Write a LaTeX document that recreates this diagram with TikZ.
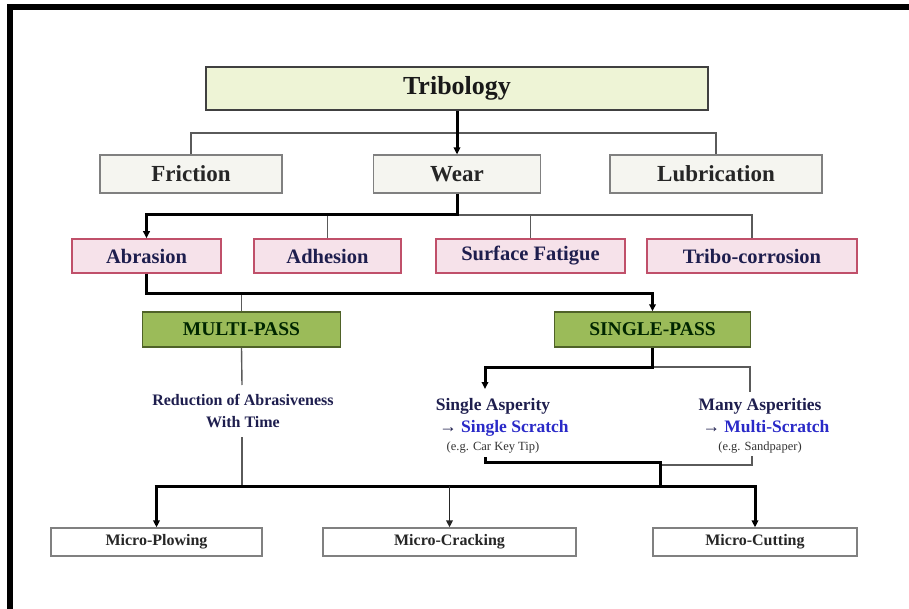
\documentclass[tikz,border=0pt]{standalone}
\usepackage{fontspec}
\setmainfont{Liberation Serif}
\usetikzlibrary{arrows.meta}

\definecolor{tribfill}{HTML}{EEF4D6}
\definecolor{catfill}{HTML}{F5F5F0}
\definecolor{catline}{HTML}{808080}
\definecolor{wearfill}{HTML}{F6E2EA}
\definecolor{wearline}{HTML}{C0506A}
\definecolor{passfill}{HTML}{9BBB59}
\definecolor{passline}{HTML}{4F6228}
\definecolor{navy}{HTML}{1E1E4E}
\definecolor{scratch}{HTML}{2A2AC8}
\definecolor{thinline}{HTML}{5A5A5A}

\tikzset{
  boxbase/.style={rectangle, inner sep=0pt, align=center},
  toplevel/.style={boxbase, draw=black!75, line width=1.5pt, fill=tribfill,
    text=black!90, font=\fontsize{26}{30}\selectfont\bfseries},
  branch/.style={boxbase, draw=catline, line width=1.2pt, fill=catfill,
    text=black!85, font=\fontsize{23}{27}\selectfont\bfseries},
  wearkind/.style={boxbase, draw=wearline, line width=1.5pt, fill=wearfill,
    text=navy, font=\fontsize{20.5}{24}\selectfont\bfseries},
  passbox/.style={boxbase, draw=passline, line width=1.5pt, fill=passfill,
    text=black!85!green, font=\fontsize{19.5}{23}\selectfont\bfseries},
  mechbox/.style={boxbase, draw=catline, line width=1.3pt, fill=white,
    text=black!85, font=\fontsize{16}{19}\selectfont\bfseries},
  note/.style={inner sep=0pt, anchor=base, text=navy,
    font=\fontsize{16}{19}\selectfont\bfseries},
  asp/.style={inner sep=0pt, anchor=base, text=navy,
    font=\fontsize{17.5}{21}\selectfont\bfseries},
  example/.style={inner sep=0pt, anchor=base, text=black!80,
    font=\fontsize{12.5}{15}\selectfont},
  heavy/.style={line width=3pt, black, line join=miter},
  medium/.style={line width=1.8pt, black!85},
  light/.style={line width=1.4pt, thinline},
  tip/.style={-{Triangle[length=7pt,width=6.5pt]}}
}

\begin{document}
\begin{tikzpicture}[x=1pt,y=-1pt]
\useasboundingbox (0,0) rectangle (909,609);
\fill[white] (0,0) rectangle (909,609);

% page frame (top and left edges)
\fill[black] (7,4) rectangle (909,10);
\fill[black] (7,4) rectangle (13,609);

% boxes
\node[toplevel, minimum width=502pt, minimum height=43pt] (trib) at (457,88.5) {Tribology};

\node[branch, minimum width=182pt, minimum height=38pt] (fric) at (191,174) {Friction};
\node[branch, minimum width=167pt, minimum height=38pt] (wear) at (457,174) {Wear};
\node[branch, minimum width=212pt, minimum height=38pt] (lub)  at (716,174) {Lubrication};

\node[wearkind, minimum width=149pt, minimum height=34pt] (abr)  at (146.5,256) {Abrasion};
\node[wearkind, minimum width=147pt, minimum height=34pt] (adh)  at (327.5,256) {Adhesion};
\node[wearkind, minimum width=189pt, minimum height=34pt] (sfat) at (530.5,256) {Surface Fatigue};
\node[wearkind, minimum width=210pt, minimum height=34pt] (trc)  at (752,256) {Tribo-corrosion};

\node[passbox, minimum width=198pt, minimum height=35pt] (mp) at (241.5,329.5) {MULTI-PASS};
\node[passbox, minimum width=196pt, minimum height=35pt] (sp) at (652.5,329.5) {SINGLE-PASS};

\node[mechbox, minimum width=211pt, minimum height=28pt] (mplow) at (156.5,542) {Micro-Plowing};
\node[mechbox, minimum width=253pt, minimum height=28pt] (mcrk)  at (449.5,542) {Micro-Cracking};
\node[mechbox, minimum width=204pt, minimum height=28pt] (mcut)  at (755,542) {Micro-Cutting};

% texts between the pass boxes and the mechanisms
\node[note] (red1) at (243,405) {Reduction of Abrasiveness};
\node[note] (red2) at (243,427) {With Time};

\node[asp] (sa1) at (493,410) {Single Asperity};
\node[asp] (sa2) at (504,432) {→ \textcolor{scratch}{Single Scratch}};
\node[example] (sa3) at (493,450) {(e.g. Car Key Tip)};

\node[asp] (ma1) at (760,410) {Many Asperities};
\node[asp] (ma2) at (766,432) {→ \textcolor{scratch}{Multi-Scratch}};
\node[example] (ma3) at (760,450) {(e.g. Sandpaper)};

% junction points
\coordinate (t1) at (0,133);
\coordinate (w1) at (0,215);
\coordinate (a1) at (0,293);
\coordinate (s1) at (0,367);
\coordinate (b1) at (0,486);
\coordinate (saIn) at (485,389);
\coordinate (maIn) at (750,392);
\coordinate (saOut) at (485,457);
\coordinate (maOut) at (752,456);
\coordinate (joinA) at (660,462);
\coordinate (joinB) at (660,465);
\coordinate (mpMid) at (242,385);
\coordinate (mpLow) at (242,437);
\coordinate (bL) at (154.5,486);
\coordinate (bR) at (756.5,486);

% Tribology -> Friction / Wear / Lubrication
\draw[light] (fric.north) -- (fric.north |- t1) -- (lub.north |- t1) -- (lub.north);
\draw[heavy,tip] (trib.south) -- (wear.north);

% Wear -> wear kinds
\draw[light] (wear.south |- w1) -| (trc.north);
\draw[light] (adh.north |- w1) -- (adh.north);
\draw[light] (sfat.north |- w1) -- (sfat.north);
\draw[heavy,tip] (wear.south) -- (wear.south |- w1) -| (abr.north);

% Abrasion -> passes
\draw[light] (mp.north |- a1) -- (mp.north);
\draw[heavy,tip] (abr.south) -- (abr.south |- a1) -| (sp.north);

% Single-pass -> asperities
\draw[light] (sp.south |- s1) -| (maIn);
\draw[heavy,tip] (sp.south) -- (sp.south |- s1) -| (saIn);

% Multi-pass branch
\draw[light] (mp.south) -- (mpMid);
\draw[light] (mpLow) -- (mpLow |- b1);

% asperities merge
\draw[light] (joinB) -| (maOut);
\draw[heavy] (saOut) -- (saOut |- joinA) -- (joinA) -- (joinA |- b1);

% bottom bar and mechanisms
\draw[heavy] (bL) -- (bR);
\draw[heavy,tip] (mplow.north |- b1) -- (mplow.north);
\draw[medium,tip] (mcrk.north |- b1) -- (mcrk.north);
\draw[heavy,tip] (mcut.north |- b1) -- (mcut.north);
\end{tikzpicture}
\end{document}
